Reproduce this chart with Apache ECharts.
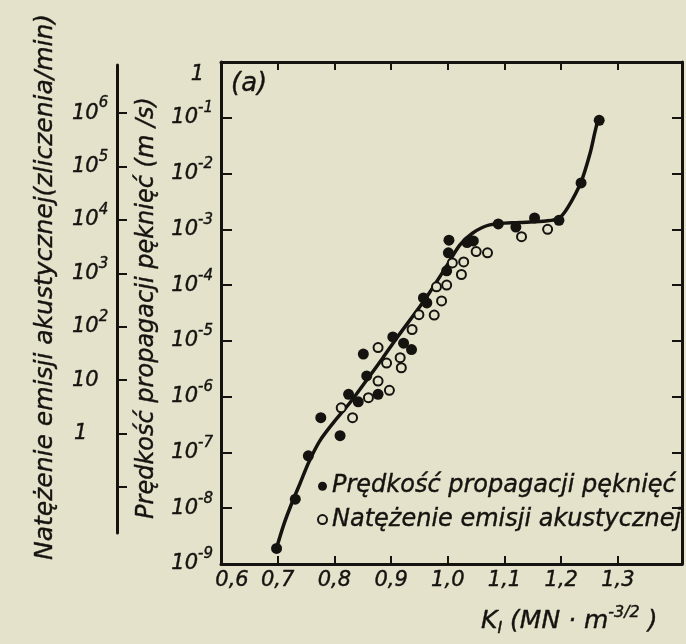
<!DOCTYPE html>
<html>
<head>
<meta charset="utf-8">
<script src="https://cdn.jsdelivr.net/npm/echarts@6/dist/echarts.min.js"></script>
<style>
html,body{margin:0;padding:0;background:#e5e2cb;}
#chart{width:686px;height:644px;}
</style>
</head>
<body>
<div id="chart"></div>
<script>
// ---- data ----
const xTickValues = [0.7, 0.8, 0.9, 1.0, 1.1, 1.2, 1.3];
const xLabelValues = [0.6, 0.7, 0.8, 0.9, 1.0, 1.1, 1.2, 1.3];
const auxTickExponents = [-1, 0, 1, 2, 3, 4, 5, 6];
const auxLabelExponents = [0, 1, 2, 3, 4, 5, 6];

const speedK = [0.698, 0.731, 0.754, 0.776, 0.810, 0.825, 0.842, 0.877, 0.851, 0.857, 0.903, 0.922, 0.936, 0.957, 0.963, 0.998, 1.002, 1.001, 1.034, 1.045, 1.089, 1.120, 1.153, 1.196, 1.235, 1.267];
const speedV = [1.9e-9, 1.45e-8, 8.7e-8, 4.2e-7, 2.0e-7, 1.1e-6, 8.1e-7, 1.1e-6, 5.8e-6, 2.35e-6, 1.18e-5, 9.1e-6, 7.0e-6, 5.9e-5, 4.8e-5, 1.8e-4, 6.4e-4, 3.8e-4, 5.8e-4, 6.2e-4, 1.25e-3, 1.1e-3, 1.6e-3, 1.45e-3, 6.8e-3, 9.0e-2];

const emissionK = [0.812, 0.832, 0.860, 0.877, 0.892, 0.877, 0.897, 0.916, 0.918, 0.937, 0.949, 0.976, 0.989, 0.980, 0.998, 1.024, 1.028, 1.008, 1.050, 1.070, 1.130, 1.176];
const emissionV = [6.3e-7, 4.2e-7, 9.6e-7, 7.6e-6, 4.0e-6, 1.9e-6, 1.3e-6, 5.0e-6, 3.3e-6, 1.6e-5, 2.95e-5, 2.9e-5, 5.2e-5, 9.3e-5, 1.0e-4, 1.55e-4, 2.6e-4, 2.5e-4, 4.0e-4, 3.8e-4, 7.4e-4, 1.0e-3];

const curveK = [0.698, 0.711, 0.725, 0.739, 0.755, 0.774, 0.799, 0.827, 0.857, 0.885, 0.910, 0.959, 0.998, 1.021, 1.044, 1.074, 1.127, 1.173, 1.196, 1.212, 1.235, 1.251, 1.259, 1.265];
const curveV = [1.94e-9, 5.2e-9, 1.24e-8, 2.72e-8, 6.75e-8, 1.6e-7, 3.5e-7, 7.7e-7, 1.99e-6, 4.9e-6, 1.13e-5, 5.4e-5, 2.2e-4, 5.2e-4, 8.6e-4, 1.2e-3, 1.33e-3, 1.41e-3, 1.58e-3, 2.5e-3, 7.1e-3, 2.34e-2, 5.3e-2, 9.4e-2];

const speedName = 'Prędkość propagacji pęknięć';
const emissionName = 'Natężenie emisji akustycznej';

// ---- chart ----
const INK = '#151310';
const PAPER = '#e5e2cb';
const FONT = 'DejaVu Sans';
const ital = {fontFamily: FONT, fontStyle: 'italic', color: INK, textBorderColor: INK, textBorderWidth: 0.4};

const zip = (a, b) => a.map((v, i) => [v, b[i]]);

const chart = echarts.init(document.getElementById('chart'));

const yRich = {
  b: Object.assign({fontSize: 21, lineHeight: 34}, ital),
  s: Object.assign({fontSize: 15, lineHeight: 15, verticalAlign: 'top'}, ital),
  pad: {fontSize: 2, lineHeight: 46},
  one: Object.assign({fontSize: 21, lineHeight: 21, verticalAlign: 'bottom', padding: [0, 9, 0, 0]}, ital)
};
const auxRich = {
  b: Object.assign({fontSize: 21, lineHeight: 34}, ital),
  s: Object.assign({fontSize: 15, lineHeight: 15, verticalAlign: 'top'}, ital),
  one: Object.assign({fontSize: 21, lineHeight: 34, padding: [0, 0, 0, 2]}, ital)
};

const gText = (extra) => Object.assign({fill: INK, fontFamily: FONT, fontStyle: 'italic', stroke: INK, lineWidth: 0.4}, extra);

const option = {
  backgroundColor: PAPER,
  animation: false,
  grid: [
    {left: 221, top: 62, width: 461, height: 502},
    {left: 117, top: 65, width: 1, height: 468}
  ],
  xAxis: [
    {
      type: 'value', gridIndex: 0, min: 0.6, max: 1.413, position: 'bottom',
      axisLine: {show: true, lineStyle: {color: INK, width: 3}},
      axisTick: {show: true, inside: true, length: 8, lineStyle: {color: INK, width: 2}, customValues: xTickValues},
      axisLabel: {
        margin: 6, customValues: xLabelValues,
        formatter: v => {
          const s = (Math.round(v * 10) / 10).toFixed(1).replace('.', ',');
          return Math.abs(v - 0.6) < 1e-6 ? '{p|' + s + '}' : '{n|' + s + '}';
        },
        rich: {
          n: Object.assign({fontSize: 21}, ital),
          p: Object.assign({fontSize: 21, padding: [0, 0, 0, 22]}, ital)
        }
      },
      splitLine: {show: false}
    },
    {
      type: 'value', gridIndex: 0, min: 0.6, max: 1.413, position: 'top',
      axisLine: {show: true, lineStyle: {color: INK, width: 3}},
      axisTick: {show: true, inside: true, length: 8, lineStyle: {color: INK, width: 2}, customValues: xTickValues},
      axisLabel: {show: false},
      splitLine: {show: false}
    },
    {
      type: 'value', gridIndex: 1, min: 0, max: 1, show: false
    }
  ],
  yAxis: [
    {
      type: 'log', gridIndex: 0, min: 1e-9, max: 1, logBase: 10, position: 'left',
      axisLine: {show: true, lineStyle: {color: INK, width: 3}},
      axisTick: {show: true, inside: true, length: 11, lineStyle: {color: INK, width: 2}},
      axisLabel: {
        margin: 8,
        formatter: v => {
          const e = Math.round(Math.log10(v));
          if (e === 0) return '{pad| }{one|1}';
          return '{b|10}{s|' + e + '}';
        },
        rich: yRich
      },
      splitLine: {show: false}
    },
    {
      type: 'log', gridIndex: 0, min: 1e-9, max: 1, logBase: 10, position: 'right',
      axisLine: {show: true, lineStyle: {color: INK, width: 3}},
      axisTick: {show: true, inside: true, length: 10, lineStyle: {color: INK, width: 2}},
      axisLabel: {show: false},
      splitLine: {show: false}
    },
    {
      type: 'value', gridIndex: 1, min: -1.86, max: 6.9, position: 'left',
      axisLine: {show: true, lineStyle: {color: INK, width: 3}},
      axisTick: {show: true, inside: true, length: 10, lineStyle: {color: INK, width: 2}, customValues: auxTickExponents},
      axisLabel: {
        align: 'left', margin: 45, customValues: auxLabelExponents,
        formatter: v => {
          const e = Math.round(v);
          if (e === 0) return '{one|1}';
          if (e === 1) return '{b|10}';
          return '{b|10}{s|' + e + '}';
        },
        rich: auxRich
      },
      splitLine: {show: false}
    }
  ],
  legend: {
    left: 312, top: 469, orient: 'vertical', itemGap: 9,
    itemWidth: 9, itemHeight: 9,
    data: [speedName, emissionName],
    textStyle: Object.assign({fontSize: 24, padding: [0, 0, 0, 0]}, ital)
  },
  series: [
    {
      type: 'line', name: 'curve', xAxisIndex: 0, yAxisIndex: 0,
      data: zip(curveK, curveV), smooth: 0.3, symbol: 'none',
      lineStyle: {color: INK, width: 3.5}, z: 2
    },
    {
      type: 'scatter', name: speedName, xAxisIndex: 0, yAxisIndex: 0,
      data: zip(speedK, speedV), symbol: 'circle', symbolSize: 11,
      itemStyle: {color: INK, opacity: 1}, z: 4
    },
    {
      type: 'scatter', name: emissionName, xAxisIndex: 0, yAxisIndex: 0,
      data: zip(emissionK, emissionV), symbol: 'circle', symbolSize: 9,
      itemStyle: {color: PAPER, borderColor: INK, borderWidth: 2, opacity: 1}, z: 3
    }
  ],
  graphic: [
    {
      type: 'text', x: 147, y: 308, rotation: Math.PI / 2,
      style: gText({text: 'Prędkość propagacji pęknięć (m /s)', fontSize: 24,
        align: 'center', verticalAlign: 'middle', textAlign: 'center', textVerticalAlign: 'middle'})
    },
    {
      type: 'text', x: 45, y: 287, rotation: Math.PI / 2,
      style: gText({text: 'Natężenie emisji akustycznej(zliczenia/min)', fontSize: 25,
        align: 'center', verticalAlign: 'middle', textAlign: 'center', textVerticalAlign: 'middle'})
    },
    {
      type: 'text', x: 231, y: 84,
      style: gText({text: '(a)', fontSize: 26,
        align: 'left', verticalAlign: 'middle', textAlign: 'left', textVerticalAlign: 'middle'})
    },
    {
      type: 'text', x: 481, y: 621,
      style: gText({
        text: '{k|K}{sub|I}{t| (MN · m}{sup|-3/2}{t| )}',
        fontSize: 25,
        align: 'left', verticalAlign: 'middle', textAlign: 'left', textVerticalAlign: 'middle',
        rich: {
          k: {fontSize: 25, lineHeight: 32, fontFamily: FONT, fontStyle: 'italic', fill: INK},
          t: {fontSize: 25, lineHeight: 32, fontFamily: FONT, fontStyle: 'italic', fill: INK},
          sub: {fontSize: 16, lineHeight: 16, verticalAlign: 'bottom', fontFamily: FONT, fontStyle: 'italic', fill: INK},
          sup: {fontSize: 16, lineHeight: 16, verticalAlign: 'top', fontFamily: FONT, fontStyle: 'italic', fill: INK}
        }
      })
    }
  ]
};
chart.setOption(option);
</script>
</body>
</html>
